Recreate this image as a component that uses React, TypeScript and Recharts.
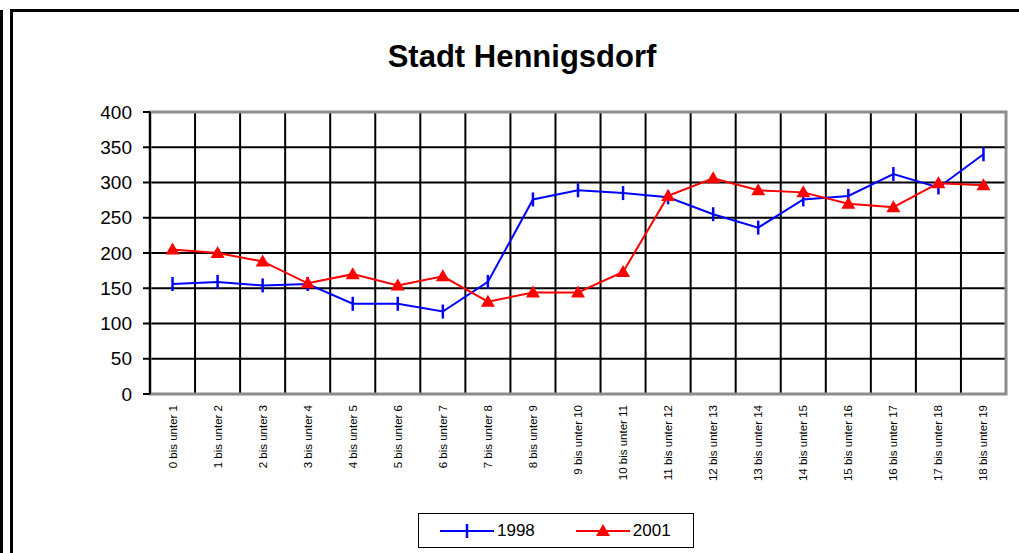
import { LineChart, Line, XAxis, YAxis, CartesianGrid, ReferenceArea } from "recharts";

const categories = [
    "0 bis unter 1", "1 bis unter 2", "2 bis unter 3", "3 bis unter 4", "4 bis unter 5",
    "5 bis unter 6", "6 bis unter 7", "7 bis unter 8", "8 bis unter 9", "9 bis unter 10",
    "10 bis unter 11", "11 bis unter 12", "12 bis unter 13", "13 bis unter 14", "14 bis unter 15",
    "15 bis unter 16", "16 bis unter 17", "17 bis unter 18", "18 bis unter 19",
];
const values1998 = [156, 159, 154, 156, 128, 128, 117, 159, 276, 289, 285, 279, 255, 236, 276, 281, 312, 293, 340];
const values2001 = [205, 200, 188, 157, 170, 154, 167, 131, 144, 144, 173, 281, 306, 289, 286, 270, 265, 299, 296];
const yTicks = [0, 50, 100, 150, 200, 250, 300, 350, 400];

// categories sit between the grid lines, so x runs on a number scale 0..19
const boundaryTicks = [...categories.map((_, i) => i), categories.length];
const centerTicks = categories.map((_, i) => i + 0.5);

const data = categories.map((name, i) => ({
    x: i + 0.5,
    name,
    v1998: values1998[i],
    v2001: values2001[i],
}));

const FONT = "'Liberation Sans', Arial, sans-serif";

function DashDot(props: any) {
    const { cx, cy } = props;
    if (cx == null || cy == null) return null;
    return <line x1={cx} y1={cy - 7} x2={cx} y2={cy + 7} stroke="#0000FF" strokeWidth={2.5} />;
}

function TriangleDot(props: any) {
    const { cx, cy } = props;
    if (cx == null || cy == null) return null;
    return (
        <polygon
            points={`${cx - 7},${cy + 5} ${cx + 7},${cy + 5} ${cx},${cy - 7}`}
            fill="#FF0000"
            stroke="none"
        />
    );
}

function EmptyTick() {
    return <g />;
}

function CategoryTick(props: any) {
    const { x, y, payload } = props;
    const label = categories[Math.floor(payload.value)];
    const ty = y + 11;
    return (
        <text
            x={x}
            y={ty}
            transform={`rotate(-90, ${x}, ${ty})`}
            textAnchor="end"
            dominantBaseline="central"
            fontSize={11.5}
            fontFamily={FONT}
            fill="#000"
        >
            {label}
        </text>
    );
}

export default function App() {
    return (
        <div
            style={{
                position: "absolute",
                left: 0,
                top: 0,
                width: 1019,
                height: 553,
                overflow: "hidden",
                background: "#fff",
                fontFamily: FONT,
            }}
        >
            <div style={{ position: "absolute", left: 0, top: 10, width: 3, height: 543, background: "#000" }} />
            <div
                style={{
                    position: "absolute",
                    left: 10,
                    top: 9,
                    width: 1040,
                    height: 580,
                    border: "3px solid #000",
                    boxSizing: "border-box",
                }}
            />
            <div
                style={{
                    position: "absolute",
                    left: 322,
                    width: 400,
                    top: 39,
                    textAlign: "center",
                    fontSize: 31,
                    fontWeight: "bold",
                    lineHeight: "36px",
                    color: "#000",
                }}
            >
                Stadt Hennigsdorf
            </div>

            <div style={{ position: "absolute", left: 0, top: 0 }}>
                <LineChart
                    width={1019}
                    height={553}
                    data={data}
                    margin={{ top: 112, right: 13, bottom: 79, left: 0 }}
                >
                    <CartesianGrid
                        xAxisId="grid"
                        stroke="#000"
                        strokeWidth={2}
                        horizontal
                        vertical
                    />
                    <ReferenceArea
                        xAxisId="grid"
                        x1={0}
                        x2={categories.length}
                        y1={0}
                        y2={400}
                        fill="none"
                        stroke="#8c8c8c"
                        strokeWidth={3}
                        ifOverflow="visible"
                    />
                    <XAxis
                        xAxisId="grid"
                        dataKey="x"
                        type="number"
                        domain={[0, categories.length]}
                        ticks={boundaryTicks}
                        tick={<EmptyTick />}
                        tickSize={5}
                        height={0}
                        interval={0}
                        axisLine={{ stroke: "#000", strokeWidth: 2 }}
                        tickLine={{ stroke: "#000", strokeWidth: 2 }}
                        allowDecimals
                    />
                    <XAxis
                        xAxisId="labels"
                        dataKey="x"
                        type="number"
                        domain={[0, categories.length]}
                        ticks={centerTicks}
                        tick={<CategoryTick />}
                        tickSize={0}
                        tickMargin={0}
                        height={80}
                        axisLine={false}
                        tickLine={false}
                        interval={0}
                        allowDecimals
                    />
                    <YAxis
                        type="number"
                        domain={[0, 400]}
                        ticks={yTicks}
                        width={150}
                        tickSize={7}
                        tickMargin={11}
                        interval={0}
                        axisLine={{ stroke: "#000", strokeWidth: 2 }}
                        tickLine={{ stroke: "#000", strokeWidth: 2 }}
                        tick={{ fontSize: 19, fill: "#000", fontFamily: FONT }}
                    />
                    <Line
                        xAxisId="grid"
                        dataKey="v1998"
                        stroke="#0000FF"
                        strokeWidth={2}
                        dot={<DashDot />}
                        activeDot={false}
                        isAnimationActive={false}
                    />
                    <Line
                        xAxisId="grid"
                        dataKey="v2001"
                        stroke="#FF0000"
                        strokeWidth={2}
                        dot={<TriangleDot />}
                        activeDot={false}
                        isAnimationActive={false}
                    />
                </LineChart>
            </div>

            <div
                style={{
                    position: "absolute",
                    left: 418,
                    top: 513,
                    width: 276,
                    height: 35,
                    border: "1.5px solid #000",
                    boxSizing: "border-box",
                    display: "flex",
                    alignItems: "center",
                    fontSize: 17,
                    color: "#000",
                }}
            >
                <svg width={56} height={20} style={{ marginLeft: 21 }}>
                    <line x1={0} y1={10} x2={54} y2={10} stroke="#0000FF" strokeWidth={2} />
                    <line x1={27} y1={3} x2={27} y2={17} stroke="#0000FF" strokeWidth={2.5} />
                </svg>
                <span style={{ marginLeft: 1 }}>1998</span>
                <svg width={56} height={20} style={{ marginLeft: 41 }}>
                    <line x1={0} y1={10} x2={54} y2={10} stroke="#FF0000" strokeWidth={2} />
                    <polygon points="20,15 34,15 27,3" fill="#FF0000" />
                </svg>
                <span style={{ marginLeft: 1 }}>2001</span>
            </div>
        </div>
    );
}
